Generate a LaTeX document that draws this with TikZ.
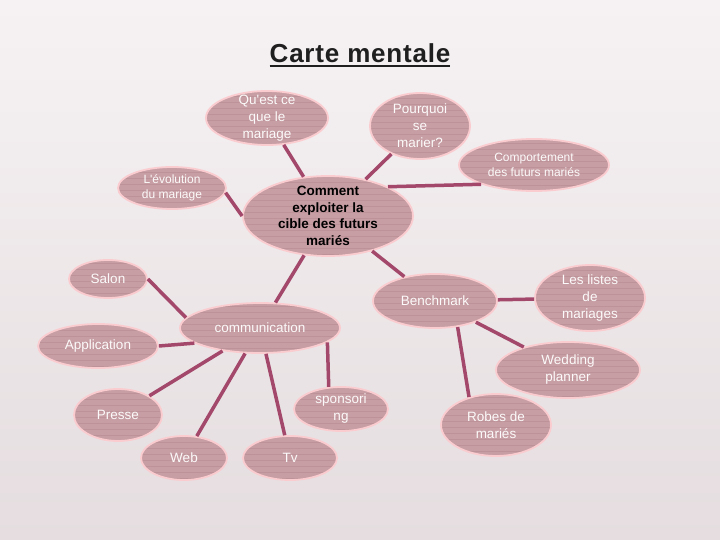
\documentclass[tikz,border=0pt]{standalone}
\usepackage{fontspec}
\setmainfont{Liberation Sans}
\newfontfamily\titlefont[LetterSpace=3]{Liberation Sans}
\usetikzlibrary{shapes.geometric}
\definecolor{bg1}{RGB}{229,221,223}
\definecolor{bg2}{RGB}{246,242,243}
\definecolor{rose1}{RGB}{199,158,164}
\definecolor{rose2}{RGB}{250,204,208}
\definecolor{stripe1}{RGB}{189,147,153}
\definecolor{plum1}{RGB}{163,72,106}

\begin{document}
\begin{tikzpicture}[x=1pt, y=-1pt,
  bubble/.style={ellipse, fill=rose1, draw=rose2, line width=1.8pt, inner sep=0pt,
    path picture={\foreach \k in {-80,-74,...,80}
      \draw[stripe1, line width=.6pt] ([shift={(-120pt,\k pt)}]path picture bounding box.center) -- ++(240pt,0pt);}},
  txt/.style={align=center, text=white!95!rose1, font=\fontsize{13.5}{17}\selectfont},
  small/.style={txt, font=\fontsize{12}{15}\selectfont},
  link/.style={plum1, line width=3.5pt}]
 \shade[top color=bg2, bottom color=bg1] (0,0) rectangle (720,540);
 \useasboundingbox (0,0) rectangle (720,540);

 \node[inner sep=0pt, text=black!88, font=\titlefont\bfseries\fontsize{26}{30}\selectfont] (title) at (360,53) {Carte mentale};
 \draw[black!88, line width=1.8pt] ([yshift=-3.5pt]title.base west) -- ([yshift=-3.5pt]title.base east);

 % centre
 \node[bubble, minimum width=170pt, minimum height=80pt,
   label={[txt, text=black, font=\bfseries\fontsize{13.5}{16.7}\selectfont]center:{Comment\\exploiter la\\cible des futurs\\mariés}}] (cible) at (328,216) {};

 \node[bubble, minimum width=122pt, minimum height=54pt, label={[txt]center:{Qu\textquotesingle est ce\\que le\\mariage}}] (quest) at (267,118) {};
 \node[bubble, minimum width=100pt, minimum height=66pt, label={[txt]center:{Pourquoi\\se\\marier?}}] (pourq) at (420,126) {};
 \node[bubble, minimum width=150pt, minimum height=52pt, label={[small]center:{Comportement\\des futurs mariés}}] (comport) at (534,165) {};
 \node[bubble, minimum width=108pt, minimum height=42pt, label={[small]center:{L\textquotesingle évolution\\du mariage}}] (evol) at (172,188) {};

 \node[bubble, minimum width=160pt, minimum height=50pt, label={[txt]center:communication}] (comm) at (260,328) {};
 \node[bubble, minimum width=78pt, minimum height=38pt, label={[txt]center:Salon}] (salon) at (108,279) {};
 \node[bubble, minimum width=120pt, minimum height=44pt, label={[txt]center:Application}] (appli) at (98,346) {};
 \node[bubble, minimum width=88pt, minimum height=52pt, label={[txt]center:Presse}] (presse) at (118,415) {};
 \node[bubble, minimum width=86pt, minimum height=44pt, label={[txt]center:Web}] (web) at (184,458) {};
 \node[bubble, minimum width=94pt, minimum height=44pt, label={[txt]center:Tv}] (tv) at (290,458) {};
 \node[bubble, minimum width=94pt, minimum height=44pt, label={[txt]center:{sponsori\\ng}}] (spons) at (341,409) {};

 \node[bubble, minimum width=124pt, minimum height=54pt, label={[txt]center:Benchmark}] (bench) at (435,301) {};
 \node[bubble, minimum width=110pt, minimum height=66pt, label={[txt]center:{Les listes\\de\\mariages}}] (listes) at (590,298) {};
 \node[bubble, minimum width=144pt, minimum height=56pt, label={[txt]center:{Wedding\\planner}}] (wedd) at (568,370) {};
 \node[bubble, minimum width=110pt, minimum height=62pt, label={[txt]center:{Robes de\\mariés}}] (robes) at (496,425) {};

 \foreach \from/\to in {cible/quest, cible/pourq, cible/comm, cible/bench, comm/presse, comm/web, comm/tv, bench/listes, bench/wedd}
  \draw[link] (\from) -- (\to);
 \draw[link] (cible.26) -- (comport.200);
 \draw[link] (evol.-5) -- (cible.west);
 \draw[link] (salon.east) -- (comm.172);
 \draw[link] (appli.east) -- (comm.193);
 \draw[link] (comm.-12) -- (spons.119);
 \draw[link] (bench.-49) -- (robes.134);
\end{tikzpicture}
\end{document}
